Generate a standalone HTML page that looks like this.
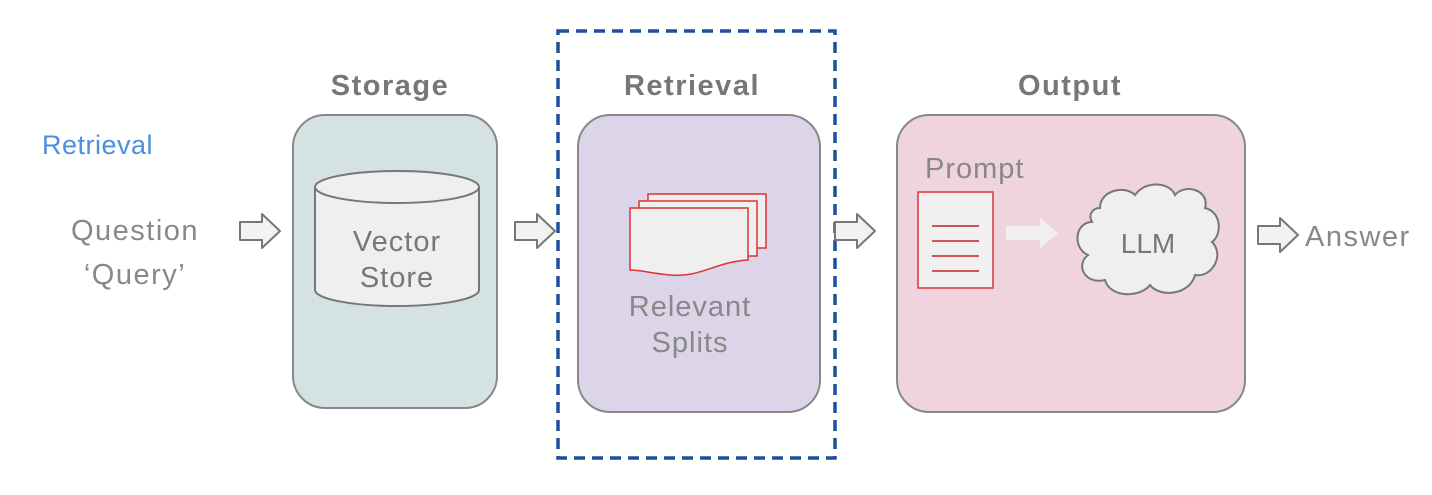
<!DOCTYPE html>
<html><head><style>
body{margin:0;background:#fff;}
svg text{font-family:"Liberation Sans",sans-serif;}
</style></head><body>
<svg width="1432" height="490" viewBox="0 0 1432 490" xmlns="http://www.w3.org/2000/svg">
<defs>
<g id="harrow"><path d="M0,-9 H22 V-17 L40,0 L22,17 V9 H0 Z" fill="#f2f2f2" stroke="#777" stroke-width="2" stroke-linejoin="round"/></g>
</defs>
<text x="42" y="154" font-size="27" fill="#4a8fe0" letter-spacing="0.5">Retrieval</text>
<text x="135" y="240" font-size="29" fill="#888" text-anchor="middle" letter-spacing="1.5">Question</text>
<text x="135" y="284" font-size="29" fill="#888" text-anchor="middle" letter-spacing="1.5">‘Query’</text>
<use href="#harrow" x="240" y="231"/>
<text x="390" y="95" font-size="29" font-weight="bold" fill="#777" text-anchor="middle" letter-spacing="1.5">Storage</text>
<rect x="293" y="115" width="204" height="293" rx="32" fill="#d4e2e3" stroke="#888" stroke-width="2"/>
<path d="M315,187 V290 A82,16 0 0 0 479,290 V187" fill="#efefef" stroke="#777" stroke-width="2"/>
<ellipse cx="397" cy="187" rx="82" ry="16" fill="#efefef" stroke="#777" stroke-width="2"/>
<text x="397" y="251" font-size="29" fill="#777" text-anchor="middle" letter-spacing="1">Vector</text>
<text x="397" y="287" font-size="29" fill="#777" text-anchor="middle" letter-spacing="1">Store</text>
<use href="#harrow" x="515" y="231"/>
<rect x="558" y="31" width="277" height="427" fill="none" stroke="#1f4e9c" stroke-width="3.5" stroke-dasharray="11,7"/>
<text x="692" y="95" font-size="29" font-weight="bold" fill="#777" text-anchor="middle" letter-spacing="1.5">Retrieval</text>
<rect x="578" y="115" width="242" height="297" rx="32" fill="#dcd4e9" stroke="#888" stroke-width="2"/>
<path d="M648,194 H766 V248 H648 Z" fill="#efefef" stroke="#d33" stroke-width="1.5"/>
<path d="M639,201 H757 V256 H639 Z" fill="#efefef" stroke="#d33" stroke-width="1.5"/>
<path d="M630,208 H748 V260 C715,262 700,278 670,275 C650,273 640,270 630,270 Z" fill="#efefef" stroke="#d33" stroke-width="1.5"/>
<text x="690" y="316" font-size="29" fill="#888" text-anchor="middle" letter-spacing="1">Relevant</text>
<text x="690" y="352" font-size="29" fill="#888" text-anchor="middle" letter-spacing="1">Splits</text>
<use href="#harrow" x="835" y="231"/>
<text x="1070" y="95" font-size="29" font-weight="bold" fill="#777" text-anchor="middle" letter-spacing="1.5">Output</text>
<rect x="897" y="115" width="348" height="297" rx="32" fill="#efd4df" stroke="#888" stroke-width="2"/>
<text x="925" y="178" font-size="29" fill="#888" letter-spacing="1">Prompt</text>
<rect x="918" y="192" width="75" height="96" fill="#f0f0f0" stroke="#d33" stroke-width="1.5"/>
<g stroke="#c55" stroke-width="2"><line x1="932" y1="226" x2="979" y2="226"/><line x1="932" y1="241" x2="979" y2="241"/><line x1="932" y1="256" x2="979" y2="256"/><line x1="932" y1="271" x2="979" y2="271"/></g>
<path d="M1006,226 H1040 V218 L1058,233 L1040,248 V240 H1006 Z" fill="#f2eef0"/>
<path d="M1100,208 C1100,190 1125,185 1135,195 C1145,180 1170,182 1175,195 C1185,183 1210,190 1205,208 C1222,212 1222,235 1212,242 C1225,255 1212,278 1195,275 C1190,295 1160,298 1150,285 C1140,298 1110,298 1105,280 C1085,285 1075,265 1088,255 C1072,248 1075,222 1092,222 C1088,215 1092,208 1100,208 Z" fill="#efefef" stroke="#777" stroke-width="2"/>
<text x="1148" y="253" font-size="28" fill="#777" text-anchor="middle">LLM</text>
<use href="#harrow" x="1258" y="235"/>
<text x="1305" y="246" font-size="29" fill="#888" letter-spacing="1.5">Answer</text>
</svg>
</body></html>
